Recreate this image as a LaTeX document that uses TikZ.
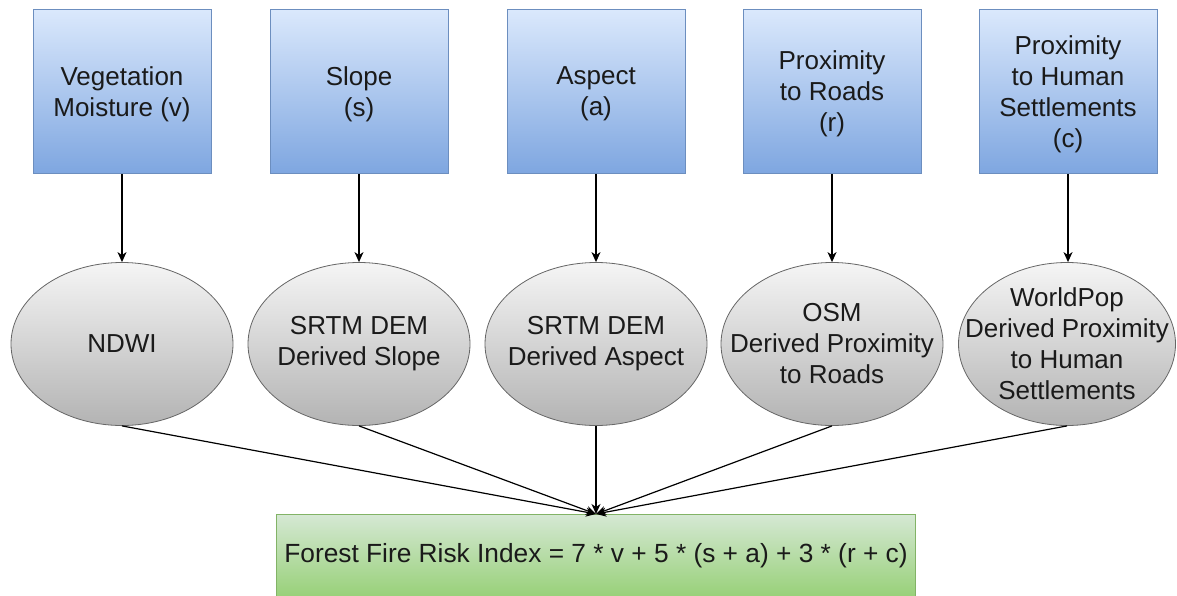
\documentclass[tikz,border=0pt]{standalone}
\usepackage{fontspec}
\setmainfont{Liberation Sans}
\usetikzlibrary{shapes.geometric,arrows.meta}
\definecolor{bluetop}{HTML}{DAE8FC}
\definecolor{bluebot}{HTML}{7EA6E0}
\definecolor{bluestroke}{HTML}{6C8EBF}
\definecolor{graytop}{HTML}{F5F5F5}
\definecolor{graybot}{HTML}{B3B3B3}
\definecolor{graystroke}{HTML}{666666}
\definecolor{greentop}{HTML}{D5E8D4}
\definecolor{greenbot}{HTML}{97D077}
\definecolor{greenstroke}{HTML}{82B366}
\definecolor{txt}{HTML}{1A1A1A}
\tikzset{
  caption/.style={align=center, text=txt, font=\fontsize{26}{31}\selectfont},
  factor/.style={rectangle, draw=bluestroke, line width=1pt, top color=bluetop, bottom color=bluebot,
    minimum width=178pt, minimum height=164pt, inner sep=0pt,
    label={[caption, yshift=-2pt]center:#1}},
  source/.style={ellipse, draw=graystroke, line width=0.8pt, top color=graytop, bottom color=graybot,
    minimum width=222pt, minimum height=163pt, inner sep=0pt,
    label={[caption]center:#1}},
  result/.style={rectangle, draw=greenstroke, line width=1pt, top color=greentop, bottom color=greenbot,
    minimum width=639pt, minimum height=84pt, inner sep=0pt, align=center, text=txt,
    font=\fontsize{26.3}{31}\selectfont},
  link/.style={draw=black, line width=1.2pt, -{Stealth[length=10pt,width=9pt,inset=3pt]}}
}
\begin{document}
\begin{tikzpicture}[x=1pt,y=-1pt]
  \useasboundingbox (0,0) rectangle (1177,596);
  % input factors
  \node[factor={Vegetation\\Moisture (v)}] (v) at (122,92) {};
  \node[factor={Slope\\(s)}] (s) at (359,92) {};
  \node[factor={Aspect\\(a)}] (a) at (596,92) {};
  \node[factor={Proximity\\to Roads\\(r)}] (r) at (832,92) {};
  \node[factor={Proximity\\to Human\\Settlements\\(c)}] (c) at (1068,92) {};
  % data sources
  \node[source={NDWI}] (ndwi) at (122,344) {};
  \node[source={SRTM DEM\\Derived Slope}] (slope) at (359,344) {};
  \node[source={SRTM DEM\\Derived Aspect}] (aspect) at (596,344) {};
  \node[source={OSM\\Derived Proximity\\to Roads}] (osm) at (832,344) {};
  \node[source={WorldPop\\Derived Proximity\\to Human\\Settlements}, minimum width=217pt] (pop) at (1067,344) {};
  % combined index
  \node[result] (idx) at (596,556) {Forest Fire Risk Index = 7 * v + 5 * (s + a) + 3 * (r + c)};
  \coordinate (in) at (596,514);
  % factor -> source
  \draw[link] (v.south) -- (ndwi.north);
  \draw[link] (s.south) -- (slope.north);
  \draw[link] (a.south) -- (aspect.north);
  \draw[link] (r.south) -- (osm.north);
  \draw[link] (c.south) -- (c.south |- pop.north);
  % source -> index
  \foreach \n in {ndwi,slope,aspect,osm,pop}
    \draw[link] (\n.south) -- (in);
\end{tikzpicture}
\end{document}
